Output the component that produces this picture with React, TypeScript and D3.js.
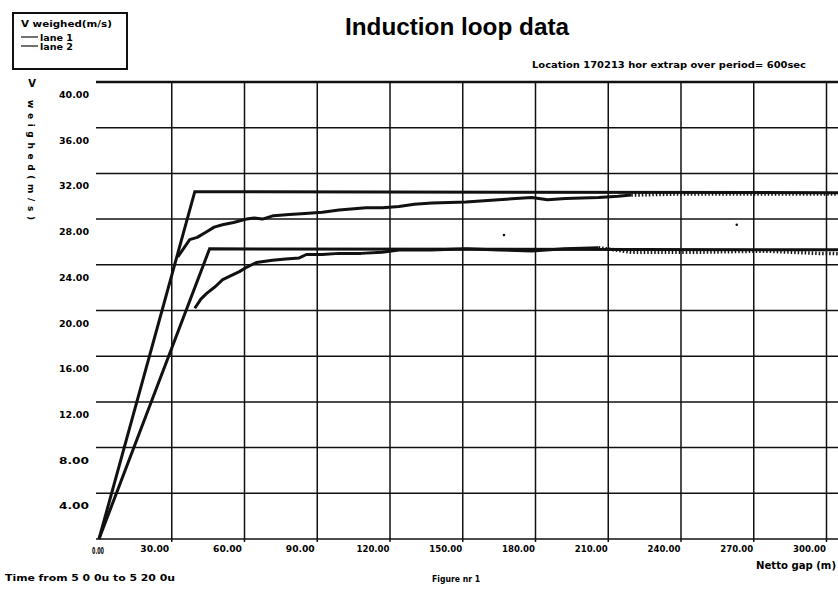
import React from 'react';
import * as d3 from 'd3';

// axis ticks
const xTicks = [0, 30, 60, 90, 120, 150, 180, 210, 240, 270, 300];
const yTicks = [4, 8, 12, 16, 20, 24, 28, 32, 36, 40];

// fitted model, lane 1 / lane 2 (netto gap m, V m/s)
const modelLane1 = [[0, 0], [39.5, 30.4], [330, 30.3]];
const modelLane2 = [[0, 0], [45.6, 25.4], [330, 25.3]];

// measured, lane 1
const lane1Solid = [
  [32.5, 24.7], [34.5, 25.3], [37.4, 26.2], [40.5, 26.4], [44.4, 26.9], [47.5, 27.3],
  [50.9, 27.5], [55.5, 27.7], [60.8, 28.0], [64, 28.1], [67.4, 28.0], [72, 28.3],
  [78.5, 28.4], [85, 28.5], [92.1, 28.6], [99, 28.8], [110.1, 29.0], [117, 29.0],
  [123.7, 29.1], [130, 29.3], [137.3, 29.4], [151.3, 29.5], [164.8, 29.7],
  [178.4, 29.9], [185, 29.7], [192.4, 29.8], [206, 29.9], [214, 30.0], [219.5, 30.1]
];
const lane1Dotted = [[219.5, 30.1], [240, 30.2], [260, 30.2], [300, 30.2], [330, 30.2]];

// measured, lane 2
const lane2Solid = [
  [39.5, 20.2], [42, 21.0], [44.4, 21.5], [48, 22.1], [51, 22.7], [54, 23.0],
  [57.9, 23.4], [61, 23.8], [64.9, 24.2], [71.5, 24.4], [77, 24.5], [82.6, 24.6],
  [85.5, 24.9], [92, 24.9], [99, 25.0], [108, 25.0], [116.7, 25.1], [123.7, 25.3],
  [137, 25.3], [151.3, 25.4], [165, 25.3], [178.4, 25.2], [192, 25.4], [206, 25.5]
];
const lane2Dotted = [[206, 25.5], [219.5, 25.1], [247, 25.1], [274.6, 25.2], [296.4, 25.0], [330, 24.9]];

const strayDots = [[167, 26.6], [263, 27.5]];

const W = 838;
const H = 589;
const FONT = "'Liberation Sans', Arial, sans-serif";
const SMALL = "'DejaVu Sans', sans-serif";

export default function App() {
  const x = d3.scaleLinear().domain([0, 300]).range([99, 826.5]);
  const y = d3.scaleLinear().domain([0, 40]).range([539, 82]);
  const line = d3.line<number[]>().x(d => x(d[0])).y(d => y(d[1]));

  const fmt = (v: number) => v.toFixed(2);
  const fit = { lengthAdjust: 'spacingAndGlyphs' as const };

  return (
    <svg width={W} height={H} style={{ position: 'fixed', left: 0, top: 0, background: '#fff' }} fontFamily={SMALL} fontWeight="bold">
      {/* legend */}
      <rect x={13} y={13} width={114} height={56} fill="none" stroke="#111" strokeWidth={2} />
      <text x={21} y={27} fontSize={9} textLength={91} {...fit}>V weighed(m/s)</text>
      <line x1={21} x2={38} y1={37} y2={37} stroke="#111" strokeWidth={1.2} />
      <text x={40} y={41} fontSize={9} textLength={33} {...fit}>lane 1</text>
      <line x1={21} x2={38} y1={46} y2={46} stroke="#111" strokeWidth={1.2} />
      <text x={40} y={50} fontSize={9} textLength={33} {...fit}>lane 2</text>

      {/* titles */}
      <text x={345} y={35} fontSize={23} fontFamily={FONT} textLength={224} {...fit}>Induction loop data</text>
      <text x={532} y={68} fontSize={9} textLength={274} {...fit}>Location 170213 hor extrap over  period= 600sec</text>

      {/* y axis title */}
      <text x={32} y={87} fontSize={10} textAnchor="middle">V</text>
      <text transform="translate(28,100) rotate(90)" fontSize={9} textLength={120}>weighed(m/s)</text>

      {/* grid */}
      {[0, ...yTicks].map(v => (
        <line key={'h' + v} x1={x(0) - 3} x2={W} y1={y(v)} y2={y(v)}
          stroke="#111" strokeWidth={v === 40 ? 2.6 : 1.5} />
      ))}
      {xTicks.filter(v => v > 0).map(v => (
        <line key={'v' + v} x1={x(v)} x2={x(v)} y1={y(40)} y2={y(0) + 3} stroke="#111" strokeWidth={1.5} />
      ))}

      {/* tick labels */}
      {yTicks.map(v => (
        <text key={'yl' + v} x={74} y={y(v) + 16} fontSize={9} textAnchor="middle" textLength={30} {...fit}>{fmt(v)}</text>
      ))}
      {xTicks.filter(v => v > 0).map(v => (
        <text key={'xl' + v} x={x(v) - 17} y={552} fontSize={9} textAnchor="middle"
          textLength={v >= 100 ? 33 : 29} {...fit}>{fmt(v)}</text>
      ))}
      <text x={98} y={554} fontSize={8} textAnchor="middle" textLength={12} {...fit}>0.00</text>

      {/* model lines */}
      <path d={line(modelLane1) || ''} fill="none" stroke="#111" strokeWidth={3} />
      <path d={line(modelLane2) || ''} fill="none" stroke="#111" strokeWidth={3} />

      {/* measured */}
      <path d={line(lane1Solid) || ''} fill="none" stroke="#111" strokeWidth={3} strokeLinejoin="round" />
      <path d={line(lane1Dotted) || ''} fill="none" stroke="#111" strokeWidth={3.5} strokeDasharray="1.5 2" />
      <path d={line(lane2Solid) || ''} fill="none" stroke="#111" strokeWidth={3} strokeLinejoin="round" />
      <path d={line(lane2Dotted) || ''} fill="none" stroke="#111" strokeWidth={3.5} strokeDasharray="1.5 2" />
      {strayDots.map((d, i) => (
        <circle key={i} cx={x(d[0])} cy={y(d[1])} r={1.3} fill="#111" />
      ))}

      {/* footer */}
      <text x={5} y={581} fontSize={9} textLength={170} {...fit}>Time from  5 0 0u to  5 20 0u</text>
      <text x={432} y={582} fontSize={9} textLength={48} {...fit}>Figure nr 1</text>
      <text x={756} y={569} fontSize={10} textLength={80} {...fit}>Netto gap (m)</text>
    </svg>
  );
}
